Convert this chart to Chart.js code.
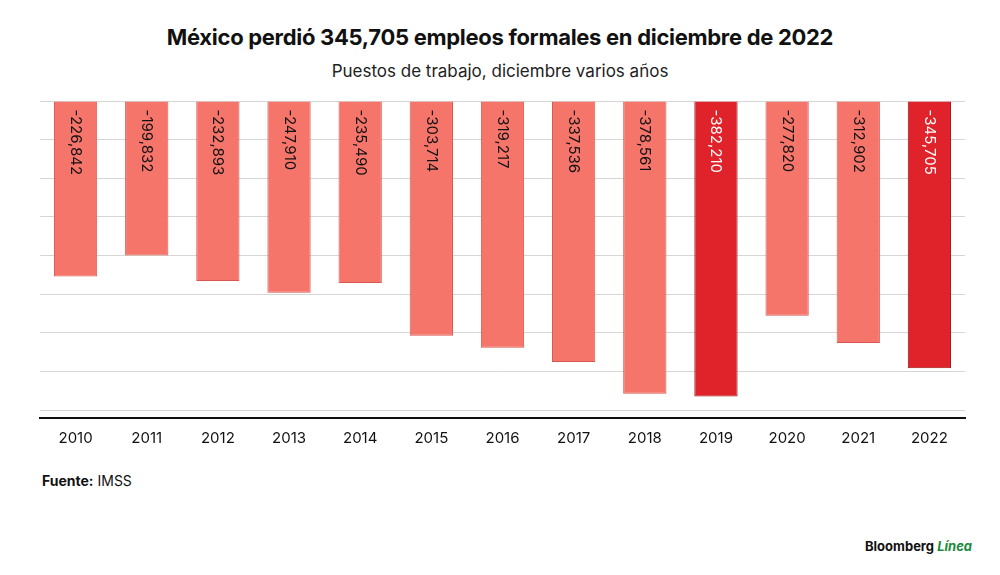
<!DOCTYPE html>
<html><head><meta charset="utf-8">
<script src="https://cdn.jsdelivr.net/npm/chart.js@4"></script>
<style>
body{margin:0;background:#fff;font-family:Inter,"Noto Sans",sans-serif}
#wrap{position:relative;width:1000px;height:575px}
#title{position:absolute;top:24px;width:1000px;text-align:center;font-weight:700;font-size:22px;color:#111;letter-spacing:-0.3px}
#sub{position:absolute;top:61px;width:1000px;text-align:center;font-size:17px;color:#222}
#src{position:absolute;left:42px;top:472px;font-size:14px;color:#111}
#logo{position:absolute;right:28px;top:538px;font-size:13px;font-weight:700;color:#111}
#cv{position:absolute;left:0;top:90px}
</style></head><body>
<div id="wrap">
<div id="title">México perdió 345,705 empleos formales en diciembre de 2022</div>
<div id="sub">Puestos de trabajo, diciembre varios años</div>
<div id="cv"><canvas id="chart" width="1000" height="360"></canvas></div>
<div id="src"><b>Fuente:</b> IMSS</div>
<div id="logo">Bloomberg <i style="color:#1a8a3a">Línea</i></div>
</div>
<script>
const years = ['2010','2011','2012','2013','2014','2015','2016','2017','2018','2019','2020','2021','2022'];
const jobs = [-226842,-199832,-232893,-247910,-235490,-303714,-319217,-337536,-378561,-382210,-277820,-312902,-345705];
const highlight = ['2019','2022'];

const fill = years.map(y => highlight.includes(y) ? '#e0222b' : '#f6756b');
const edge = years.map(y => highlight.includes(y) ? '#9a1116' : '#d9574f');

const barLabels = {
  id:'barLabels',
  afterDatasetsDraw(chart){
    const ctx = chart.ctx;
    chart.getDatasetMeta(0).data.forEach((bar,i)=>{
      ctx.save();
      ctx.translate(bar.x, bar.base + 8);
      ctx.rotate(Math.PI/2);
      ctx.font = '15px Inter, "Noto Sans", sans-serif';
      ctx.fillStyle = highlight.includes(years[i]) ? '#fff' : '#111';
      ctx.textAlign = 'left';
      ctx.textBaseline = 'middle';
      ctx.fillText(jobs[i].toLocaleString('en-US'), 0, 0);
      ctx.restore();
    });
  }
};

new Chart(document.getElementById('chart'), {
  type:'bar',
  data:{labels:years, datasets:[{data:jobs, backgroundColor:fill, borderColor:edge, borderWidth:1, categoryPercentage:0.8, barPercentage:0.76}]},
  options:{
    responsive:false, animation:false,
    layout:{padding:{left:40,right:35,top:11,bottom:0}},
    plugins:{legend:{display:false}, tooltip:{enabled:false}},
    scales:{
      x:{grid:{display:false}, border:{color:'#111',width:2},
         ticks:{color:'#111',font:{size:15,family:'Inter'},padding:3}},
      y:{min:-410000,max:0,
         afterBuildTicks(s){ s.ticks = [0,-50000,-100000,-150000,-200000,-250000,-300000,-350000,-400000].map(v=>({value:v})); },
         ticks:{display:false},
         grid:{color:'#d6d6d6',drawTicks:false}, border:{display:false}}
    }
  },
  plugins:[barLabels]
});
</script>
</body></html>
